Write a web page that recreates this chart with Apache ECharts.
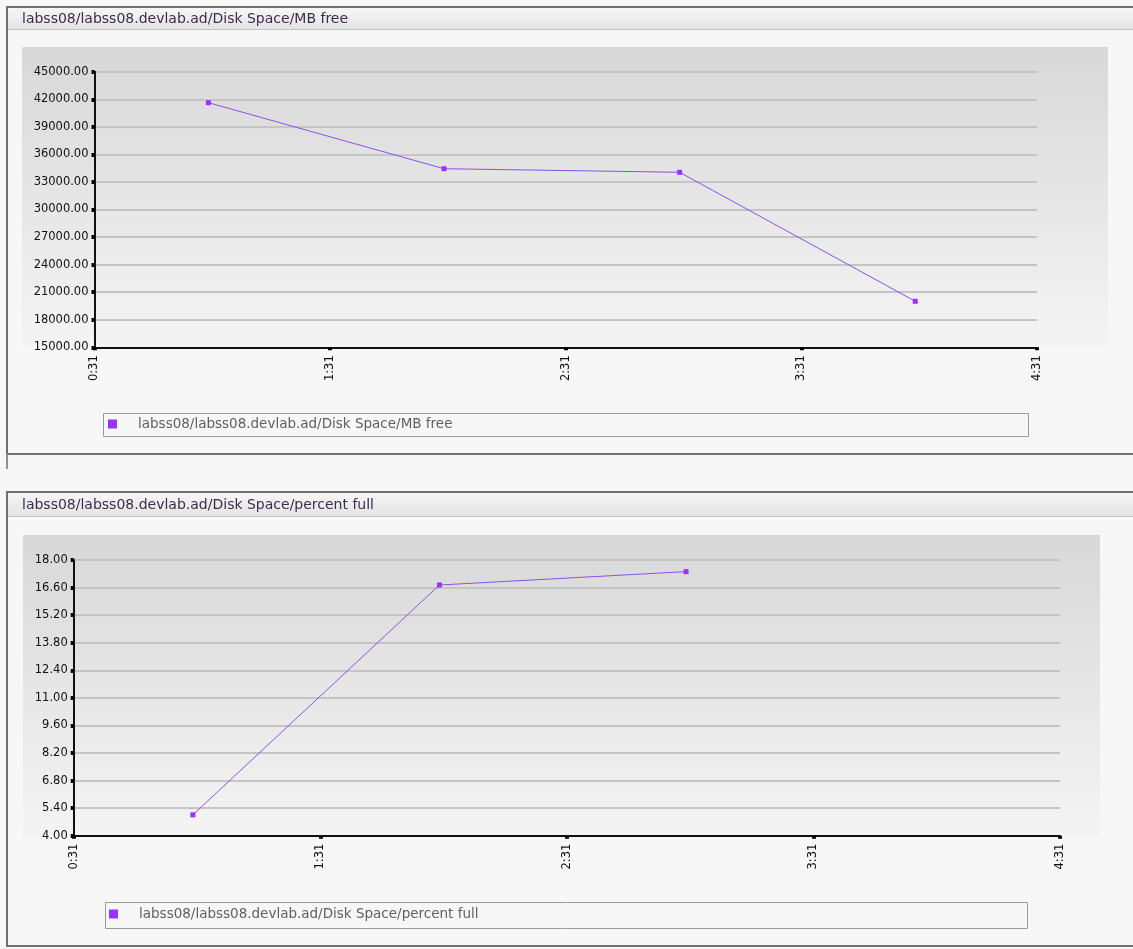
<!DOCTYPE html>
<html>
<head>
<meta charset="utf-8">
<script src="https://cdn.jsdelivr.net/npm/echarts@6/dist/echarts.min.js"></script>
<style>
html,body{margin:0;padding:0;background:#f7f7f7;}
#chart{width:1133px;height:949px;}
</style>
</head>
<body>
<div id="chart"></div>
<script>
// ---- data ----
const titleTop = 'labss08/labss08.devlab.ad/Disk Space/MB free';
const titleBottom = 'labss08/labss08.devlab.ad/Disk Space/percent full';
const timesTop = ['1:00', '2:00', '3:00', '4:00'];
const mbFree = [41630, 34440, 34050, 20010];
const timesBottom = ['1:00', '2:00', '3:00'];
const pctFull = [5.06, 16.73, 17.41];
const xTickLabels = ['0:31', '1:31', '2:31', '3:31', '4:31'];
const mbAxis = {min: 15000, max: 45000, interval: 3000};
const pctAxis = {min: 4, max: 18, interval: 1.4};

function toMin(s) { const p = s.split(':'); return (+p[0]) * 60 + (+p[1]); }
function fmtTime(v) { const h = Math.floor(v / 60), m = Math.round(v - h * 60); return h + ':' + (m < 10 ? '0' : '') + m; }

const xMin = toMin(xTickLabels[0]);
const xMax = toMin(xTickLabels[xTickLabels.length - 1]);
const xInt = toMin(xTickLabels[1]) - xMin;

const FONT = 'DejaVu Sans';
const purple = '#9933ff';

function xAxisCfg(gridIndex) {
  return {
    type: 'value', gridIndex, min: xMin, max: xMax, interval: xInt,
    axisLine: {show: true, onZero: false, lineStyle: {color: '#111', width: 2}},
    axisTick: {show: true, length: 3, lineStyle: {color: '#000', width: 4}},
    splitLine: {show: false},
    axisLabel: {rotate: 90, margin: 8, color: '#111', fontFamily: FONT, fontSize: 11.5,
      formatter: v => fmtTime(v)}
  };
}
function yAxisCfg(gridIndex, cfg) {
  return {
    type: 'value', gridIndex, min: cfg.min, max: cfg.max, interval: cfg.interval,
    axisLine: {show: true, lineStyle: {color: '#111', width: 2}},
    axisTick: {show: true, length: 3, lineStyle: {color: '#000', width: 4}},
    splitLine: {show: true, lineStyle: {color: '#c4c4c4', width: 2}},
    axisLabel: {margin: 6, color: '#111', fontFamily: FONT, fontSize: 11.5,
      formatter: v => (+v).toFixed(2)}
  };
}

const plotGrad = () => new echarts.graphic.LinearGradient(0, 0, 0, 1, [
  {offset: 0, color: '#d8d8d8'}, {offset: 1, color: '#f4f4f4'}]);
const barGrad = () => new echarts.graphic.LinearGradient(0, 0, 0, 1, [
  {offset: 0, color: '#f6f6f6'}, {offset: 1, color: '#e4e4e4'}]);

const chart = echarts.init(document.getElementById('chart'), null, {renderer: 'canvas'});
chart.setOption({
  backgroundColor: '#f7f7f7',
  animation: false,
  graphic: {
    elements: [
      // top panel
      {type: 'rect', z: -10, shape: {x: 7, y: 7, width: 1140, height: 447}, style: {fill: '#f7f7f7', stroke: '#707070', lineWidth: 2}},
      {type: 'rect', z: -9, shape: {x: 8, y: 8, width: 1130, height: 21}, style: {fill: barGrad()}},
      {type: 'line', z: -9, shape: {x1: 8, y1: 29.5, x2: 1133, y2: 29.5}, style: {stroke: '#c2c2c2', lineWidth: 1}},
      {type: 'rect', z: -9, shape: {x: 22, y: 47, width: 1086, height: 300}, style: {fill: plotGrad()}},
      {type: 'rect', z: -8, shape: {x: 103.5, y: 413.5, width: 925, height: 23}, style: {fill: 'none', stroke: '#9a9a9a', lineWidth: 1}},
      {type: 'line', z: -9, shape: {x1: 7, y1: 454, x2: 7, y2: 469}, style: {stroke: '#909090', lineWidth: 2}},
      // bottom panel
      {type: 'rect', z: -10, shape: {x: 7, y: 492, width: 1140, height: 454}, style: {fill: '#f7f7f7', stroke: '#707070', lineWidth: 2}},
      {type: 'rect', z: -9, shape: {x: 8, y: 493, width: 1130, height: 23}, style: {fill: barGrad()}},
      {type: 'line', z: -9, shape: {x1: 8, y1: 516.5, x2: 1133, y2: 516.5}, style: {stroke: '#c2c2c2', lineWidth: 1}},
      {type: 'rect', z: -9, shape: {x: 23, y: 535, width: 1077, height: 302}, style: {fill: plotGrad()}},
      {type: 'rect', z: -8, shape: {x: 105.5, y: 902.5, width: 922, height: 26}, style: {fill: 'none', stroke: '#9a9a9a', lineWidth: 1}}
    ]
  },
  title: [
    {text: titleTop, left: 22, top: 12, padding: 0,
     textStyle: {fontFamily: FONT, fontSize: 14, fontWeight: 'normal', color: '#3f2a4e'}},
    {text: titleBottom, left: 22, top: 498, padding: 0,
     textStyle: {fontFamily: FONT, fontSize: 14, fontWeight: 'normal', color: '#3f2a4e'}}
  ],
  legend: [
    {data: [titleTop], left: 108, top: 417, padding: 0, icon: 'rect', itemWidth: 9, itemHeight: 9,
     selectedMode: false,
     textStyle: {fontFamily: FONT, fontSize: 13.5, color: '#5f5f5f', padding: [0, 0, 0, 16]}},
    {data: [titleBottom], left: 109, top: 907, padding: 0, icon: 'rect', itemWidth: 9, itemHeight: 9,
     selectedMode: false,
     textStyle: {fontFamily: FONT, fontSize: 13.5, color: '#5f5f5f', padding: [0, 0, 0, 16]}}
  ],
  grid: [
    {left: 94.5, width: 942.5, top: 71.7, height: 275.6, containLabel: false},
    {left: 73.7, width: 986.3, top: 560, height: 275.7, containLabel: false}
  ],
  xAxis: [xAxisCfg(0), xAxisCfg(1)],
  yAxis: [yAxisCfg(0, mbAxis), yAxisCfg(1, pctAxis)],
  series: [
    {name: titleTop, type: 'line', xAxisIndex: 0, yAxisIndex: 0,
     data: timesTop.map((t, i) => [toMin(t), mbFree[i]]),
     symbol: 'rect', symbolSize: 5, itemStyle: {color: purple},
     lineStyle: {color: '#8f4fe8', width: 1}, emphasis: {disabled: true}},
    {name: titleBottom, type: 'line', xAxisIndex: 1, yAxisIndex: 1,
     data: timesBottom.map((t, i) => [toMin(t), pctFull[i]]),
     symbol: 'rect', symbolSize: 5, itemStyle: {color: purple},
     lineStyle: {color: '#8f4fe8', width: 1}, emphasis: {disabled: true}}
  ]
});
</script>
</body>
</html>
